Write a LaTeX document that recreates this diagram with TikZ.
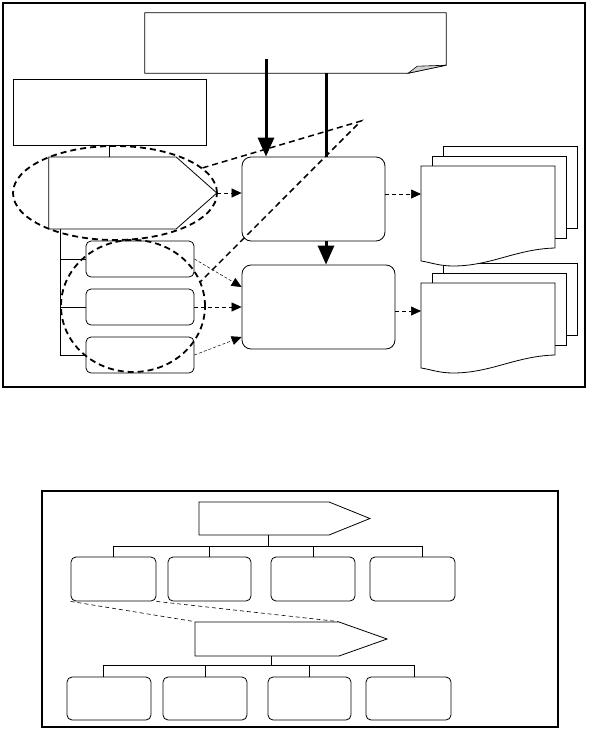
\documentclass[tikz,border=0pt]{standalone}
\usetikzlibrary{shapes.symbols,shapes.geometric,arrows.meta,calc}

\tikzset{
  tie/.style={line width=0.8pt},
  plainbox/.style={draw, tie, inner sep=0pt},
  roundbox/.style={draw, tie, rounded corners=5pt, inner sep=0pt},
  bigbox/.style={draw, tie, rounded corners=9pt, inner sep=0pt},
  pointer/.style={draw, tie, shape=signal, signal to=east, inner sep=0pt},
  zoomring/.style={draw, ellipse, line width=1.8pt, dash pattern=on 6pt off 4pt, inner sep=0pt},
  zoomline/.style={line width=1.5pt, dash pattern=on 6pt off 4pt},
  flow/.style={-{Triangle[length=10pt,width=9pt]}, line width=0.7pt, dash pattern=on 4pt off 3pt},
  fineflow/.style={flow, line width=0.5pt, dash pattern=on 3pt off 2pt},
  heavy/.style={line width=3pt},
  heavyarrow/.style={heavy, -{Triangle[length=19pt,width=16pt]}},
  pics/docstack/.style={code={
    \draw[tie, fill=white] (22,-20) rectangle ++(134,#1);
    \draw[tie, fill=white] (11,-10) rectangle ++(134,#1);
    \draw[tie, fill=white] (0,0) -- (134,0) -- (134,#1)
      .. controls (95,{#1+1}) and (70,{#1+18}) .. (32,{#1+18})
      .. controls (18,{#1+18}) and (8,{#1+14}) .. (0,{#1+13}) -- cycle;
    \coordinate (-front) at (0,28);
  }},
}

\begin{document}
\begin{tikzpicture}[x=1pt, y=-1pt, >=stealth]
\fill[white] (0,0) rectangle (589,729);
\useasboundingbox (0,0) rectangle (589,729);

\draw[line width=1.2pt] (3,3) rectangle (585,387);
\draw[line width=1.2pt] (42,491) rectangle (558,727);

\node[minimum width=301pt, minimum height=60pt, inner sep=0pt] (note) at (295.5,43) {};
\draw[tie] (note.north west) -- (note.north east) -- ([yshift=8pt]note.south east)
  -- ([xshift=-38pt]note.south east) -- (note.south west) -- cycle;
\draw[line width=0.6pt, fill=gray!35] ([xshift=-38pt]note.south east)
  -- ([xshift=-29pt,yshift=7pt]note.south east) -- ([yshift=8pt]note.south east) -- cycle;

\node[plainbox, minimum width=193pt, minimum height=66pt] (lbox) at (109.5,112) {};
\node[pointer, minimum width=168pt, minimum height=72pt, signal pointer angle=83] (hex) at (112.5,193) {};
\node[roundbox, minimum width=108pt, minimum height=36pt] (sb1) at (140,259) {};
\node[roundbox, minimum width=108pt, minimum height=36pt] (sb2) at (140,307) {};
\node[roundbox, minimum width=108pt, minimum height=36pt] (sb3) at (140,355) {};
\node[bigbox, minimum width=143pt, minimum height=84pt] (box1) at (313.5,199) {};
\node[bigbox, minimum width=153pt, minimum height=84pt] (box2) at (318.5,307) {};

\pic (docb) at (421,283) {docstack=72};
\pic (doca) at (421,166) {docstack=82};

\draw[tie] (lbox.south) -- (lbox.south |- hex.north);
\coordinate (spine) at ([xshift=12pt]hex.south west);
\draw[tie] (spine) |- (sb3.west);
\draw[tie] (spine |- sb1.west) -- (sb1.west);
\draw[tie] (spine |- sb2.west) -- (sb2.west);

\coordinate (srcA) at (266,59);
\coordinate (srcB) at (326,73);
\draw[heavyarrow] (srcA) -- (srcA |- box1.north);
\draw[heavy] (srcB) -- (srcB |- box1.north);
\draw[heavyarrow] (srcB |- box1.south) -- (srcB |- box2.north);

\draw[flow] (hex.east) -- (hex.east -| box1.west);
\draw[flow] (box1.east |- doca-front) -- (doca-front);
\draw[fineflow] (sb1.east) -- ([yshift=20pt]box2.west);
\draw[flow] (sb2.east) -- (box2.west);
\draw[fineflow] (sb3.east) -- ([yshift=-30pt]box2.west);
\draw[flow] (box2.east |- docb-front) -- (docb-front);

\node[zoomring, minimum width=204pt, minimum height=94pt] (e1) at (115,193) {};
\node[zoomring, minimum width=144pt, minimum height=132pt] (e2) at (133,306) {};
\coordinate (apex) at (361,121);
\draw[zoomline] (e1.16) -- (apex) -- (e2.20);

\node[pointer, minimum width=171pt, minimum height=33pt, signal pointer angle=44] (sigA) at (264,518.5) {};
\node[roundbox, minimum width=85pt, minimum height=44pt] (r1a) at (113.5,579) {};
\node[roundbox, minimum width=83pt, minimum height=44pt] (r1b) at (209.5,579) {};
\node[roundbox, minimum width=84pt, minimum height=44pt] (r1c) at (313,579) {};
\node[roundbox, minimum width=85pt, minimum height=44pt] (r1d) at (412.5,579) {};
\node[pointer, minimum width=192pt, minimum height=34pt, signal pointer angle=39] (sigB) at (267,639) {};
\node[roundbox, minimum width=84pt, minimum height=43pt] (r2a) at (109,698.5) {};
\node[roundbox, minimum width=84pt, minimum height=43pt] (r2b) at (205,698.5) {};
\node[roundbox, minimum width=83pt, minimum height=43pt] (r2c) at (309.5,698.5) {};
\node[roundbox, minimum width=85pt, minimum height=43pt] (r2d) at (408.5,698.5) {};

\coordinate (barA) at (268,546);
\draw[tie] (barA |- sigA.south) -- (barA);
\draw[tie] (r1a.north) |- (barA);
\draw[tie] (r1b.north) |- (barA);
\draw[tie] (r1c.north) |- (barA);
\draw[tie] ([xshift=10pt]r1d.north) |- (barA);

\coordinate (barB) at (271,665);
\draw[tie] (barB |- sigB.south) -- (barB);
\draw[tie] ([xshift=-6pt]r2a.north) |- (barB);
\draw[tie] (r2b.north) |- (barB);
\draw[tie] (r2c.north) |- (barB);
\draw[tie] ([xshift=6pt]r2d.north) |- (barB);

\draw[line width=0.6pt, dash pattern=on 4pt off 3pt] (r1a.south west) -- (sigB.north west);
\draw[line width=0.6pt, dash pattern=on 4pt off 3pt] (r1a.south east) -- ([xshift=144pt]sigB.north west);
\end{tikzpicture}
\end{document}
